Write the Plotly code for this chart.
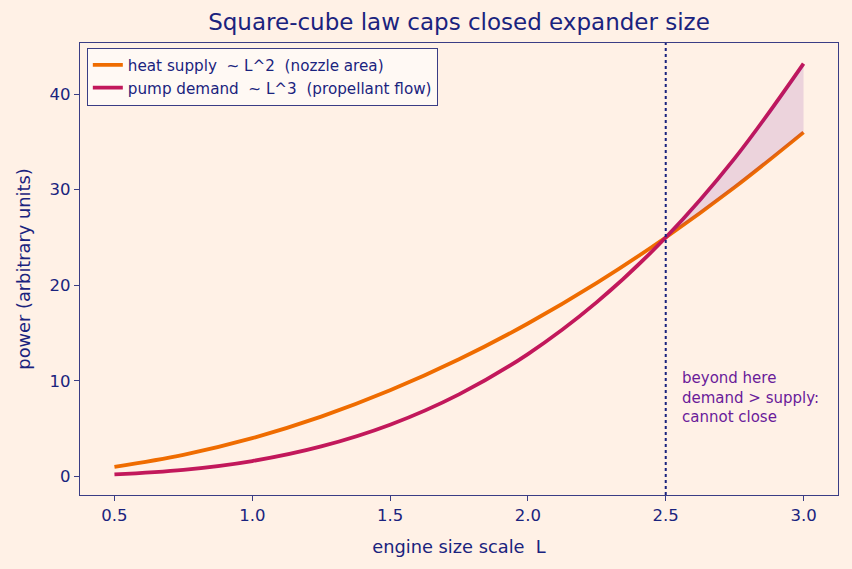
import plotly.graph_objects as go

L = [0.5, 0.75, 1.0, 1.25, 1.5, 1.75, 2.0, 2.25, 2.5, 2.75, 3.0]
heat_supply = [1.0, 2.25, 4.0, 6.25, 9.0, 12.25, 16.0, 20.25, 25.0, 30.25, 36.0]
pump_demand = [0.2, 0.68, 1.6, 3.13, 5.4, 8.58, 12.8, 18.23, 25.0, 33.28, 43.2]
limit_L = 2.5
note_text = "beyond here<br>demand &gt; supply:<br>cannot close"
note_y = 8.27

navy = "#1a237e"
spine = "#3a3d85"
bg = "#fff1e6"

fig = go.Figure()

fig.add_trace(go.Scatter(x=L, y=heat_supply, mode="lines",
                         name="heat supply  ~ L^2  (nozzle area)",
                         line=dict(color="#ef6c00", width=3.8, shape="spline")))
fig.add_trace(go.Scatter(x=L, y=pump_demand, mode="lines",
                         name="pump demand  ~ L^3  (propellant flow)",
                         line=dict(color="#c2185b", width=3.8, shape="spline")))

# shaded region beyond limit
idx = [i for i, v in enumerate(L) if v >= limit_L]
fig.add_trace(go.Scatter(x=[L[i] for i in idx], y=[heat_supply[i] for i in idx],
                         mode="lines", line=dict(width=0, shape="spline"),
                         showlegend=False, hoverinfo="skip"))
fig.add_trace(go.Scatter(x=[L[i] for i in idx], y=[pump_demand[i] for i in idx],
                         mode="lines", line=dict(width=0, shape="spline"),
                         fill="tonexty", fillcolor="rgba(123,31,162,0.14)",
                         showlegend=False, hoverinfo="skip"))

fig.add_shape(type="line", x0=limit_L, x1=limit_L, y0=0, y1=1, yref="paper",
              line=dict(color=navy, width=2, dash="dot"))

fig.add_annotation(x=2.55, y=note_y, xanchor="left", yanchor="middle",
                   text=note_text, showarrow=False, align="left",
                   font=dict(color="#6a1b9a", size=15, family="DejaVu Sans"))

axis_common = dict(showline=True, linecolor=spine, linewidth=1.3, mirror=True,
                   ticks="outside", ticklen=5, tickcolor=spine, showgrid=False,
                   zeroline=False, tickfont=dict(color=navy, size=16.5),
                   title_font=dict(color=navy, size=17.8))

fig.update_layout(
    width=852, height=569,
    paper_bgcolor=bg, plot_bgcolor=bg,
    margin=dict(l=80, r=14, t=43, b=74),
    font=dict(family="DejaVu Sans", color=navy),
    title=dict(text="Square-cube law caps closed expander size", x=0.5,
               xref="paper", xanchor="center", y=0.962, yanchor="middle",
               font=dict(size=23, color=navy)),
    xaxis=dict(range=[0.375, 3.125], tickvals=[0.5, 1.0, 1.5, 2.0, 2.5, 3.0],
               ticktext=["0.5", "1.0", "1.5", "2.0", "2.5", "3.0"],
               title=dict(text="engine size scale  L", standoff=16), **axis_common),
    yaxis=dict(range=[-1.95, 45.35], tickvals=[0, 10, 20, 30, 40],
               title=dict(text="power (arbitrary units)", standoff=14), **axis_common),
    legend=dict(x=0.009, y=0.99, xanchor="left", yanchor="top",
                traceorder="normal",
                bgcolor="rgba(255,250,245,0.9)", bordercolor=spine, borderwidth=1,
                font=dict(size=15.2, color=navy), tracegroupgap=0,
                itemwidth=30),
    showlegend=True,
)

fig.write_html("out.html")
